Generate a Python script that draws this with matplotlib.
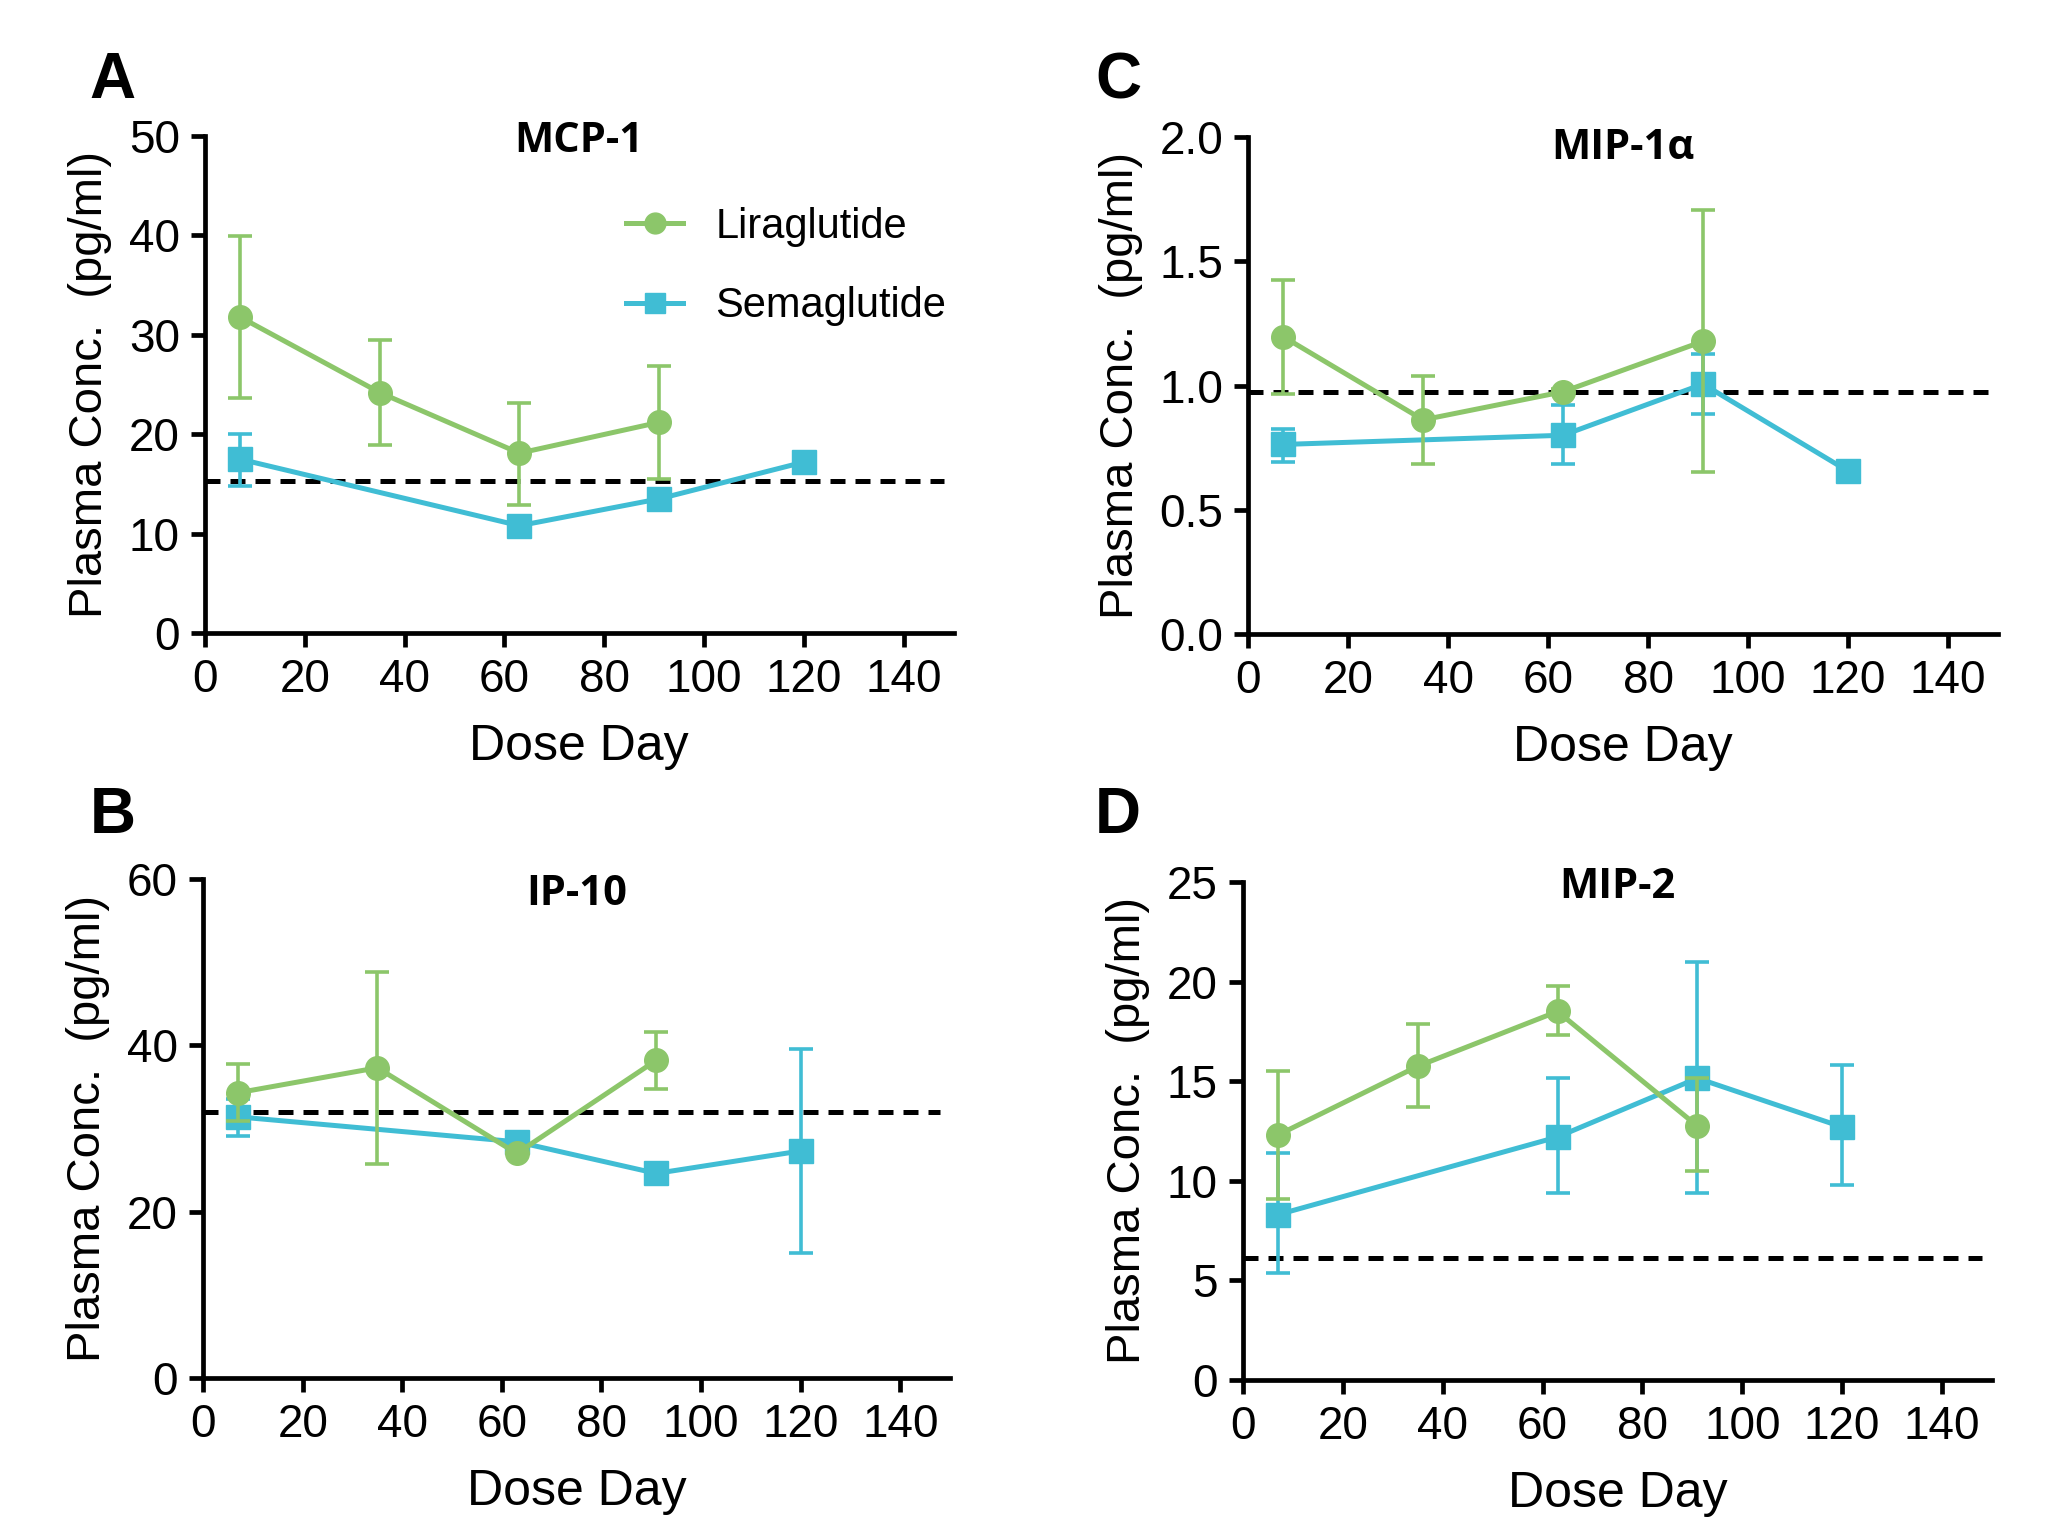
import numpy as np
import matplotlib
matplotlib.use("Agg")
import matplotlib.pyplot as plt
from matplotlib.lines import Line2D

# data
days_lira = [7, 35, 63, 91]
days_sema = [7, 63, 91, 120]

mcp1_lira = [31.8, 24.2, 18.1, 21.2]
mcp1_lira_lo = [23.6, 18.9, 12.9, 15.5]
mcp1_lira_hi = [39.9, 29.5, 23.1, 26.9]
mcp1_sema = [17.5, 10.8, 13.5, 17.2]
mcp1_sema_lo = [14.8, 10.8, 13.5, 17.2]
mcp1_sema_hi = [20.0, 10.8, 13.5, 17.2]
mcp1_lod = 15.3

mip1a_lira = [1.197, 0.862, 0.975, 1.178]
mip1a_lira_lo = [0.966, 0.685, 0.965, 0.652]
mip1a_lira_hi = [1.424, 1.038, 0.985, 1.705]
mip1a_sema = [0.763, 0.80, 1.006, 0.656]
mip1a_sema_lo = [0.694, 0.685, 0.886, 0.656]
mip1a_sema_hi = [0.824, 0.92, 1.127, 0.656]
mip1a_lod = 0.973

ip10_lira = [34.3, 37.3, 27.0, 38.2]
ip10_lira_lo = [30.9, 25.7, 27.0, 34.7]
ip10_lira_hi = [37.8, 48.8, 27.0, 41.6]
ip10_sema = [31.4, 28.4, 24.6, 27.3]
ip10_sema_lo = [29.1, 28.4, 24.6, 15.0]
ip10_sema_hi = [33.5, 28.4, 24.6, 39.6]
ip10_lod = 32.0

mip2_lira = [12.3, 15.75, 18.5, 12.75]
mip2_lira_lo = [9.1, 13.7, 17.3, 10.5]
mip2_lira_hi = [15.5, 17.85, 19.76, 15.15]
mip2_sema = [8.3, 12.2, 15.15, 12.7]
mip2_sema_lo = [5.36, 9.4, 9.4, 9.8]
mip2_sema_hi = [11.4, 15.15, 21.0, 15.8]
mip2_lod = 6.1

green = "#8cc66a"
cyan = "#40bdd4"
narrow = ["Liberation Sans Narrow", "DejaVu Sans Condensed", "Liberation Sans"]
arial = ["Liberation Sans", "DejaVu Sans"]

fig = plt.figure(figsize=(20.64, 15.17), dpi=100)

panels = [
    # rect, title, title_y, letter, letter_xy, data..., yticks, fmt
    ([0.0993, 0.5827, 0.3627, 0.3276], "MCP-1", 0.99, "A", (0.0543, 0.9466),
     mcp1_lira, mcp1_lira_lo, mcp1_lira_hi, mcp1_sema, mcp1_sema_lo, mcp1_sema_hi,
     mcp1_lod, np.arange(0, 51, 10), "%d"),
    ([0.6047, 0.5820, 0.3633, 0.3277], "MIP-1\u03b1", 0.976, "C", (0.5417, 0.9466),
     mip1a_lira, mip1a_lira_lo, mip1a_lira_hi, mip1a_sema, mip1a_sema_lo, mip1a_sema_hi,
     mip1a_lod, np.arange(0, 2.01, 0.5), "%.1f"),
    ([0.0984, 0.0916, 0.3619, 0.3290], "IP-10", 0.968, "B", (0.0547, 0.4621),
     ip10_lira, ip10_lira_lo, ip10_lira_hi, ip10_sema, ip10_sema_lo, ip10_sema_hi,
     ip10_lod, np.arange(0, 61, 20), "%d"),
    ([0.6022, 0.0903, 0.3629, 0.3283], "MIP-2", 0.988, "D", (0.5417, 0.4621),
     mip2_lira, mip2_lira_lo, mip2_lira_hi, mip2_sema, mip2_sema_lo, mip2_sema_hi,
     mip2_lod, np.arange(0, 26, 5), "%d"),
]

for (rect, title, ty, letter, lxy, ly, llo, lhi, sy, slo, shi, lod, yt, fmt) in panels:
	ax = fig.add_axes(rect)
	ly, sy = np.array(ly), np.array(sy)
	lerr = [ly - np.array(llo), np.array(lhi) - ly]
	serr = [sy - np.array(slo), np.array(shi) - sy]

	ax.hlines(lod, 0, 148, colors="black", linestyles=(0, (3.0, 2.0)), lw=3.6, zorder=1)
	ax.errorbar(days_sema, sy, yerr=serr, color=cyan, lw=3.6, marker="s", ms=17,
	            elinewidth=2.6, capsize=8.5, capthick=2.6, zorder=2)
	ax.errorbar(days_lira, ly, yerr=lerr, color=green, lw=3.6, marker="o", ms=17,
	            elinewidth=2.6, capsize=8.5, capthick=2.6, zorder=3)

	ax.set_xlim(0, 150)
	ax.set_ylim(yt[0], yt[-1])
	ax.set_xticks(np.arange(0, 141, 20))
	ax.set_yticks(yt)
	ax.set_yticklabels([fmt % v for v in yt])
	for s in ["top", "right"]:
		ax.spines[s].set_visible(False)
	for s in ["left", "bottom"]:
		ax.spines[s].set_linewidth(3.4)
	ax.tick_params(width=3.4, length=10, labelsize=33, pad=8)
	for lab in ax.get_xticklabels() + ax.get_yticklabels():
		lab.set_family(narrow)

	ax.set_xlabel("Dose Day", fontsize=36, family=arial, labelpad=16)
	ax.set_ylabel("Plasma Conc.  (pg/ml)", fontsize=34, family=arial, labelpad=12)
	ax.text(0.5, ty, title, transform=ax.transAxes, ha="center", va="center",
	        fontsize=30, fontweight="bold", family=["Open Sans", "DejaVu Sans"])
	fig.text(lxy[0], lxy[1], letter, ha="center", va="center", fontsize=46,
	         fontweight="bold", family=arial)

	if letter == "A":
		h = [Line2D([], [], color=green, lw=3.6, marker="o", ms=15),
		     Line2D([], [], color=cyan, lw=3.6, marker="s", ms=15)]
		ax.legend(h, ["Liraglutide", "Semaglutide"], loc="upper left",
		          bbox_to_anchor=(0.563, 0.858), borderaxespad=0, borderpad=0,
		          frameon=False, prop={"family": arial, "size": 30},
		          handlelength=1.35, labelspacing=0.95, handletextpad=0.78)

fig.savefig("out.png", dpi=100)
